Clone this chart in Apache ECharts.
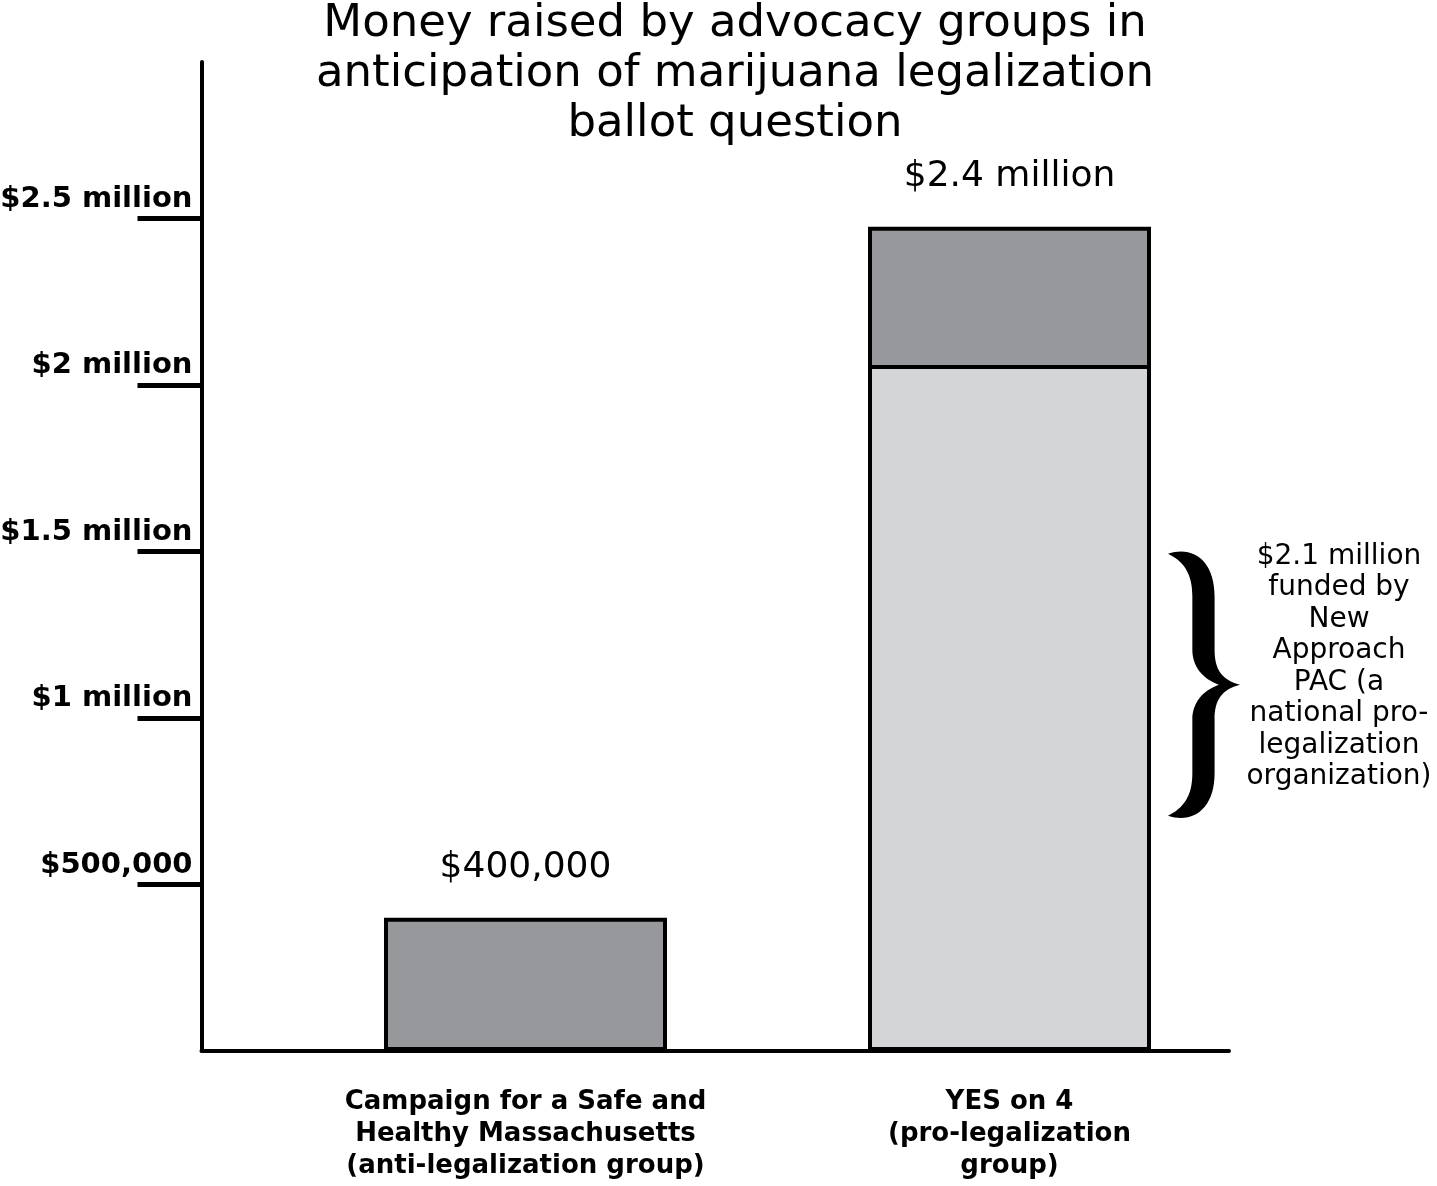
<!DOCTYPE html>
<html><head><meta charset="utf-8">
<script src="https://cdn.jsdelivr.net/npm/echarts@6/dist/echarts.min.js"></script>
<style>html,body{margin:0;padding:0;background:#fff}#chart{width:1437px;height:1186px}</style>
</head><body><div id="chart"></div>
<script>
const TITLE_LINES = ['Money raised by advocacy groups in', 'anticipation of marijuana legalization', 'ballot question'];
const CATEGORIES = ['Campaign for a Safe and\nHealthy Massachusetts\n(anti-legalization group)', 'YES on 4\n(pro-legalization\ngroup)'];
const PAC_FUNDED = [null, 2060000];
const OTHER_FUNDED = [400000, 415000];
const TOTAL_LABELS = ['$400,000', '$2.4 million'];
const Y_TICKS = [500000, 1000000, 1500000, 2000000, 2500000];
const Y_TICK_LABELS = ['$500,000', '$1 million', '$1.5 million', '$2 million', '$2.5 million'];
const Y_MAX = 2970000;
const BRACE_RANGE = [700000, 1500000];
const NOTE_LINES = ['$2.1 million', 'funded by', 'New', 'Approach', 'PAC (a', 'national pro-', 'legalization', 'organization)'];

const FONT = 'DejaVu Sans';
const BAR_W = 283;
const chart = echarts.init(document.getElementById('chart'), null, {renderer: 'canvas'});

// Totals per bar (PAC-funded part + other money), drawn behind the PAC part
const TOTALS = OTHER_FUNDED.map((v, i) => v + (PAC_FUNDED[i] || 0));

const bracePath = 'M2,5 C26,-3 46,12 46,46 L46,98 C46,117 53,127 70,131.5 C53,136 46,146 46,165 L46,217 C46,251 26,266 2,258 ' +
  'C16,251 25,240 25,217 L25,165 C25,149 35,137 50,131.5 C35,126 25,114 25,98 L25,46 C25,23 16,12 2,5 Z';

const option = {
  backgroundColor: '#fff',
  animation: false,
  title: {
    text: TITLE_LINES.join('\n'),
    left: 735, top: -1, padding: 0, textAlign: 'center',
    textStyle: {fontFamily: FONT, fontSize: 45, fontWeight: 'normal', lineHeight: 50, color: '#000'}
  },
  grid: [
    {left: 201.5, right: 208, top: 62, bottom: 135, outerBoundsMode: 'none', containLabel: false},
    {left: 283.5, right: 185.5, top: 62, bottom: 135, outerBoundsMode: 'none', containLabel: false}
  ],
  xAxis: [
    {type: 'value', gridIndex: 0, min: 0, max: 1,
     axisLine: {show: true, lineStyle: {color: '#000', width: 4}},
     axisTick: {show: false}, axisLabel: {show: false}, splitLine: {show: false}},
    {type: 'category', gridIndex: 1, data: CATEGORIES,
     axisLine: {show: false}, axisTick: {show: false}, splitLine: {show: false},
     axisLabel: {margin: 35, interval: 0, color: '#000', fontFamily: FONT, fontWeight: 'bold', fontSize: 26, lineHeight: 32, align: 'center'}}
  ],
  yAxis: [
    {type: 'value', gridIndex: 0, min: 0, max: Y_MAX, interval: 500000,
     axisLine: {show: true, lineStyle: {color: '#000', width: 4}},
     axisTick: {show: true, length: 64, customValues: Y_TICKS, lineStyle: {color: '#000', width: 5}},
     axisLabel: {customValues: Y_TICKS, margin: 9, color: '#000', fontFamily: FONT, fontWeight: 'bold', fontSize: 29,
       lineHeight: 29, verticalAlign: 'bottom', padding: [0, 0, 5, 0],
       formatter: v => { const i = Y_TICKS.indexOf(v); return i >= 0 ? Y_TICK_LABELS[i] : ''; }},
     splitLine: {show: false}},
    {type: 'value', gridIndex: 1, min: 0, max: Y_MAX, show: false, splitLine: {show: false}}
  ],
  series: [
    {name: 'Total raised', type: 'bar', xAxisIndex: 1, yAxisIndex: 1, barWidth: BAR_W, barGap: '-100%', z: 2,
     data: TOTALS,
     itemStyle: {color: '#97989b', borderColor: '#000', borderWidth: 4},
     label: {show: true, position: 'top', distance: 32, color: '#000', fontFamily: FONT, fontSize: 36, lineHeight: 36,
       formatter: p => TOTAL_LABELS[p.dataIndex]}},
    {name: 'New Approach PAC', type: 'bar', xAxisIndex: 1, yAxisIndex: 1, barWidth: BAR_W, barGap: '-100%', z: 3,
     data: PAC_FUNDED.map(v => v == null ? '-' : v),
     itemStyle: {color: '#d4d5d7', borderColor: '#000', borderWidth: 4}},
    {name: 'Annotation', type: 'custom', xAxisIndex: 1, yAxisIndex: 1, silent: true, z: 5,
     data: [[1, BRACE_RANGE[0], BRACE_RANGE[1]]],
     renderItem: (params, api) => {
       const top = api.coord([api.value(0), api.value(2)]);
       const bot = api.coord([api.value(0), api.value(1)]);
       const bx = top[0] + BAR_W / 2 + 17;
       const bw = 72;
       return {
         type: 'group',
         children: [
           {type: 'path', shape: {pathData: bracePath, layout: 'cover', x: bx, y: top[1], width: bw, height: bot[1] - top[1]},
            style: {fill: '#000'}},
           {type: 'text', x: bx + bw + 99, y: top[1] - 11,
            style: {text: NOTE_LINES.join('\n'), fill: '#000', fontFamily: FONT, fontSize: 28, lineHeight: 31.5, align: 'center', verticalAlign: 'top'}}
         ]
       };
     }}
  ]
};
chart.setOption(option);
</script></body></html>
